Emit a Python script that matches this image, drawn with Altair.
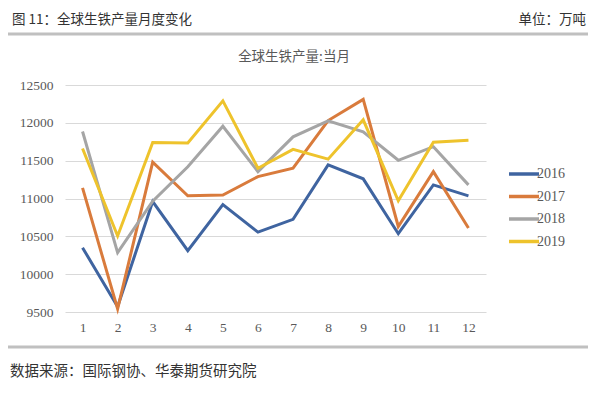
import altair as alt
import pandas as pd

months = list(range(1, 13))
years = ["2016", "2017", "2018", "2019"]
v2016 = [10350, 9570, 10960, 10310, 10920, 10555, 10725, 11445, 11260, 10535, 11180, 11035]
v2017 = [11140, 9540, 11480, 11035, 11045, 11290, 11400, 12030, 12310, 10630, 11355, 10610]
v2018 = [11885, 10285, 10965, 11420, 11955, 11355, 11815, 12025, 11880, 11505, 11685, 11180]
v2019 = [11660, 10505, 11740, 11735, 12290, 11400, 11650, 11520, 12040, 10970, 11745, 11770]
series = [v2016, v2017, v2018, v2019]
colors = ["#3F64A0", "#D97B3C", "#A5A5A5", "#EEC32C"]
y_ticks = [9500, 10000, 10500, 11000, 11500, 12000, 12500]

header_left = "图 11：全球生铁产量月度变化"
header_right = "单位：万吨"
chart_title = "全球生铁产量:当月"
footer = "数据来源：国际钢协、华泰期货研究院"

rows = []
for yr, vals in zip(years, series):
    for m, v in zip(months, vals):
        rows.append({"month": m, "year": yr, "value": v})
df = pd.DataFrame(rows)

W, H = 421, 227
PL, PT = 57, 77

lines = alt.Chart(df).mark_line(strokeWidth=3, strokeJoin="miter").encode(
    x=alt.X("month:O", sort=months, title=None,
            axis=alt.Axis(labelAngle=0, domain=False, ticks=False, labelPadding=8,
                          labelFont="Liberation Serif", labelFontSize=13.5,
                          labelColor="#595959")),
    y=alt.Y("value:Q", title=None,
            scale=alt.Scale(domain=[9500, 12500], nice=False, zero=False),
            axis=alt.Axis(values=y_ticks, format="d", domain=False, ticks=False, labelPadding=12,
                          labelFont="Liberation Serif", labelFontSize=13.5,
                          labelColor="#595959", gridColor="#D9D9D9", gridWidth=1)),
    color=alt.Color("year:N", sort=years,
                    scale=alt.Scale(domain=years, range=colors),
                    legend=alt.Legend(title=None, orient="none", legendX=452, legendY=82,
                                      symbolType="M-3,0H3", symbolSize=100,
                                      symbolStrokeWidth=3.5, symbolFillColor="transparent",
                                      labelFont="Liberation Serif", labelFontSize=14,
                                      labelColor="#595959", labelOffset=6,
                                      rowPadding=8.5, padding=0)),
)

def txt(s, x, y, align="left", size=13.5, color="#333333", font="Noto Sans CJK SC"):
    return alt.Chart(pd.DataFrame({"t": [s]})).mark_text(
        align=align, baseline="middle", font=font, fontSize=size, color=color
    ).encode(x=alt.value(x), y=alt.value(y), text="t:N")

def hrule(y):
    return alt.Chart(pd.DataFrame({"a": [0]})).mark_rule(
        color="#C0C0C0", strokeWidth=3
    ).encode(x=alt.value(8 - 65), x2=alt.value(588 - 65), y=alt.value(y))

chart = alt.layer(
    lines,
    hrule(34 - 85),
    hrule(347 - 85),
    txt(header_left, 12 - 65, 20 - 85),
    txt(header_right, 586 - 65, 20 - 85, align="right"),
    txt(chart_title, 294 - 65, 57 - 85, align="center", size=13.5, color="#595959"),
    txt(footer, 10 - 65, 372 - 85, size=14.5),
).properties(
    width=W, height=H,
    autosize=alt.AutoSizeParams(type="none"),
    padding={"left": PL, "top": PT, "right": 584 - PL - W, "bottom": 377 - PT - H},
).configure_view(stroke=None)

chart.save("out.html", embed_options={"renderer": "svg", "actions": False})
